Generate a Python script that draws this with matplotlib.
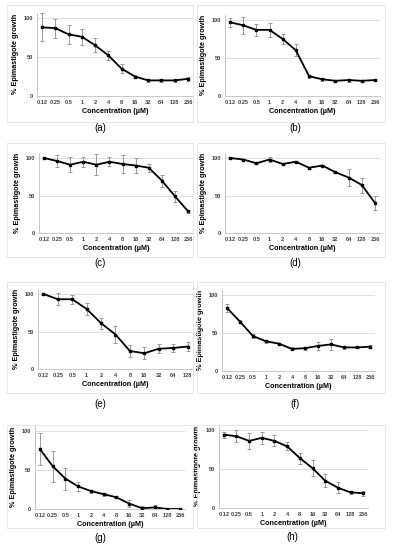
"""Epimastigote growth vs concentration, eight panels (a)-(h)."""

import matplotlib
matplotlib.use("Agg")
import matplotlib.pyplot as plt
from matplotlib.patches import Rectangle

plt.rcParams["font.family"] = ["Liberation Sans", "DejaVu Sans"]

# ── Data ─────────────────────────────────────────────────────────────────────

CONC = ["0.12", "0.25", "0.5", "1", "2", "4", "8", "16", "32", "64", "128", "256"]
CONC_E = CONC[:11]

A_VAL = [88, 87, 79, 76, 65, 52, 35, 25, 20, 20, 20, 22]
A_ERR = [18, 12, 12, 10, 9, 6, 6, 2, 2, 1.5, 1.5, 3]

B_VAL = [97, 93, 87, 87, 75, 60, 26, 22, 20, 21, 20, 21]
B_ERR = [6, 11, 8, 9, 7, 8, 2, 2, 1, 2, 1, 1]

C_VAL = [100, 96, 91, 95, 91, 95, 92, 90, 87, 70, 49, 29]
C_ERR = [1, 8, 10, 7, 14, 6, 12, 10, 5, 8, 7, 2]

D_VAL = [100, 98, 93, 98, 92, 95, 87, 90, 81, 74, 64, 40]
D_ERR = [1, 1, 1, 3, 1, 1, 1, 1, 1, 11, 10, 9]

E_VAL = [100, 93, 93, 80, 61, 46, 24, 21, 27, 28, 30]
E_ERR = [1, 8, 6, 8, 7, 11, 8, 8, 6, 5, 6]

F_VAL = [83, 65, 46, 39, 36, 29, 30, 33, 35, 31, 31, 32]
F_ERR = [5, 2, 3, 2, 1, 2, 2, 5, 7, 2, 1, 2]

G_VAL = [77, 55, 39, 29, 23, 19, 15, 7, 1, 2, 0, 0]
G_ERR = [20, 20, 14, 6, 2, 2, 1, 5, 3, 3, 0.5, 0.5]

H_VAL = [94, 92, 86, 90, 86, 79, 64, 51, 35, 26, 20, 19]
H_ERR = [4, 8, 10, 8, 7, 5, 7, 10, 8, 7, 2, 3]

LABELS = ["(a)", "(b)", "(c)", "(d)", "(e)", "(f)", "(g)", "(h)"]

# ── Layout (pixels) ──────────────────────────────────────────────────────────

W, H = 393, 550
# left, right, y at 0, y at 100
AXES_PX = [
    (37, 193, 96, 18), (225, 380, 96, 20),
    (39, 193, 233, 158), (225, 380, 233, 158),
    (38, 193, 369, 294), (222, 375, 371, 295),
    (35, 185, 509, 431), (219, 368, 508, 430),
]
LABEL_PX = [(100, 128), (295, 128), (100, 263), (295, 263),
            (100, 404), (295, 404), (100, 538), (292, 537)]
BOX_ROWS = [(5, 122), (143, 257), (282, 393), (425, 528)]
BOX_COLS = [(7, 193), (197, 385)]

YMAX = 107
GRID = "#d9d9d9"
AXIS = "#bfbfbf"
ERR = "#8c8c8c"


def draw_panel(fig, px, cats, vals, errs):
    left, right, y0, y100 = px
    height = (y0 - y100) * YMAX / 100
    ax = fig.add_axes([left / W, 1 - y0 / H, (right - left) / W, height / H])
    x = list(range(len(cats)))

    ax.errorbar(x, vals, yerr=errs, fmt="none", ecolor=ERR, elinewidth=0.6,
                capsize=1.3, capthick=0.6, zorder=2)
    ax.plot(x, vals, "s-", color="black", linewidth=1.3, markersize=2, zorder=3)

    ax.set_xlim(-0.38, len(cats) - 1 + 0.38)
    ax.set_ylim(0, YMAX)
    ax.set_yticks([0, 50, 100])
    ax.set_xticks(x)
    ax.set_xticklabels(cats)
    ax.tick_params(axis="both", length=0, labelsize=4.1, pad=3)
    for lab in ax.get_xticklabels() + ax.get_yticklabels():
        lab.set_fontweight("bold")
        lab.set_color("#404040")
    ax.grid(True, axis="y", color=GRID, linewidth=0.6, zorder=0)
    ax.set_axisbelow(True)
    for side in ("top", "right"):
        ax.spines[side].set_visible(False)
    for side in ("left", "bottom"):
        ax.spines[side].set_color(AXIS)
        ax.spines[side].set_linewidth(0.6)

    ax.set_xlabel("Concentration (µM)", fontsize=5.2, fontweight="bold", labelpad=2)
    ax.set_ylabel("% Epimastigote growth", fontsize=5.2, fontweight="bold", labelpad=3)
    return ax


def main():
    fig = plt.figure(figsize=(W / 100, H / 100), dpi=100)

    # faint chart-area borders
    for top, bottom in BOX_ROWS:
        for l, r in BOX_COLS:
            fig.patches.append(Rectangle((l / W, 1 - bottom / H), (r - l) / W,
                                         (bottom - top) / H, transform=fig.transFigure,
                                         fill=False, edgecolor="#e3e3e3", linewidth=0.6))

    series = [
        (CONC, A_VAL, A_ERR), (CONC, B_VAL, B_ERR),
        (CONC, C_VAL, C_ERR), (CONC, D_VAL, D_ERR),
        (CONC_E, E_VAL, E_ERR), (CONC, F_VAL, F_ERR),
        (CONC, G_VAL, G_ERR), (CONC, H_VAL, H_ERR),
    ]
    for px, (cats, vals, errs) in zip(AXES_PX, series):
        draw_panel(fig, px, cats, vals, errs)

    for (lx, ly), lab in zip(LABEL_PX, LABELS):
        fig.text(lx / W, 1 - ly / H, lab, ha="center", va="center", fontsize=7)

    fig.savefig("out.png", dpi=100)
    plt.close(fig)


if __name__ == "__main__":
    main()
